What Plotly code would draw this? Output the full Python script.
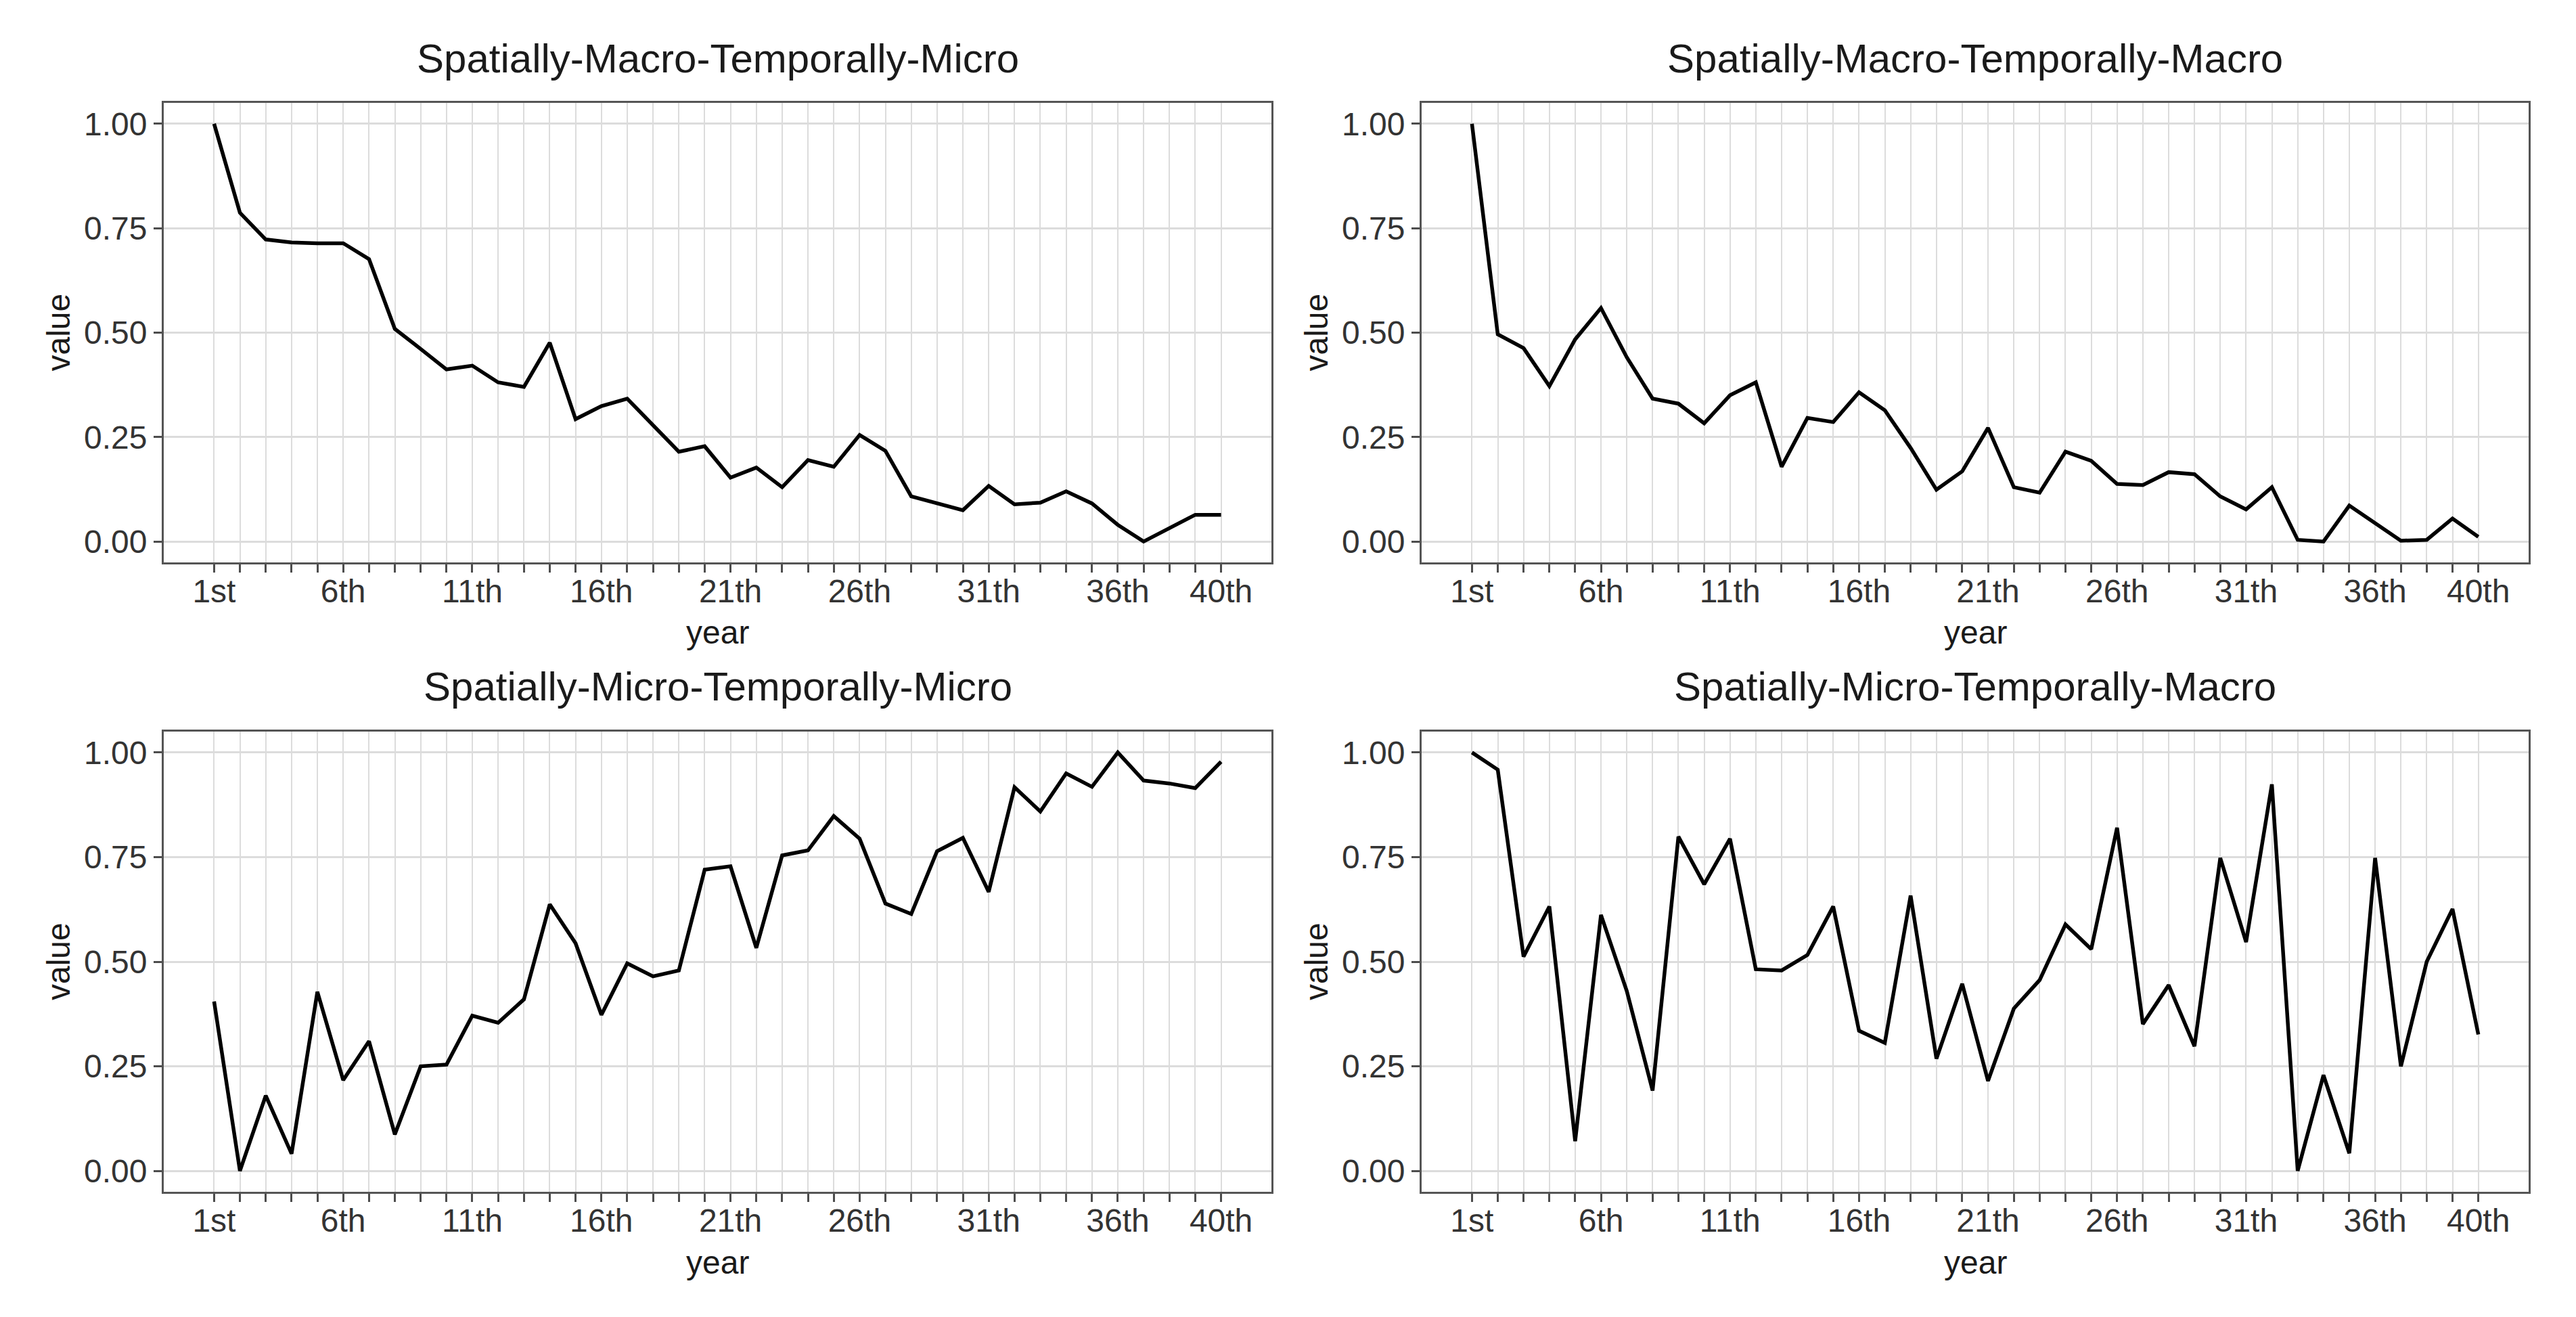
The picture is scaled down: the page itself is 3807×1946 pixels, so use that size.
import plotly.graph_objects as go

# ---- data ----
years = list(range(1, 41))
year_labels = ["1st"] + [f"{n}th" for n in range(2, 41)]
shown_labels = ["1st", "6th", "11th", "16th", "21th", "26th", "31th", "36th", "40th"]
y_ticks = [0.0, 0.25, 0.5, 0.75, 1.0]
y_ticktext = ["0.00", "0.25", "0.50", "0.75", "1.00"]

titles = [
    "Spatially-Macro-Temporally-Micro",
    "Spatially-Macro-Temporally-Macro",
    "Spatially-Micro-Temporally-Micro",
    "Spatially-Micro-Temporally-Macro",
]

smac_tmic = [1.000, 0.787, 0.723, 0.716, 0.714, 0.714, 0.676, 0.509, 0.461, 0.412,
             0.421, 0.381, 0.370, 0.476, 0.293, 0.324, 0.342, 0.277, 0.215, 0.228,
             0.153, 0.177, 0.130, 0.195, 0.179, 0.255, 0.217, 0.108, 0.091, 0.075,
             0.133, 0.089, 0.093, 0.120, 0.091, 0.040, 0.000, 0.033, 0.064, 0.064]

smac_tmac = [1.000, 0.496, 0.463, 0.372, 0.484, 0.559, 0.441, 0.342, 0.330, 0.283,
             0.350, 0.381, 0.179, 0.296, 0.286, 0.357, 0.314, 0.224, 0.124, 0.168,
             0.272, 0.130, 0.117, 0.215, 0.193, 0.138, 0.135, 0.166, 0.161, 0.108,
             0.077, 0.130, 0.004, 0.000, 0.086, 0.043, 0.002, 0.004, 0.055, 0.011]

smic_tmic = [0.405, 0.000, 0.180, 0.041, 0.428, 0.217, 0.310, 0.087, 0.250, 0.254,
             0.371, 0.354, 0.410, 0.637, 0.544, 0.373, 0.496, 0.465, 0.479, 0.720,
             0.728, 0.533, 0.754, 0.766, 0.848, 0.794, 0.639, 0.614, 0.764, 0.796,
             0.667, 0.917, 0.859, 0.950, 0.918, 1.000, 0.933, 0.926, 0.915, 0.978]

smic_tmac = [1.000, 0.959, 0.512, 0.632, 0.071, 0.612, 0.430, 0.192, 0.799, 0.685,
             0.794, 0.482, 0.479, 0.516, 0.632, 0.335, 0.306, 0.658, 0.268, 0.447,
             0.215, 0.388, 0.456, 0.589, 0.530, 0.820, 0.351, 0.444, 0.298, 0.748,
             0.547, 0.924, 0.000, 0.229, 0.042, 0.748, 0.250, 0.500, 0.626, 0.326]

series = [smac_tmic, smac_tmac, smic_tmic, smic_tmac]

# ---- layout geometry ----
W, H = 3807, 1946
xdoms = [[234 / W, 1871 / W], [2093 / W, 3729 / W]]
ydoms = [[1 - 823 / H, 1 - 144 / H], [1 - 1753 / H, 1 - 1073 / H]]
FONT = "Liberation Sans, Arial, sans-serif"
TXT = "#1a1a1a"
TICKC = "#4d4d4d"

fig = go.Figure()
layout = dict(
    width=W, height=H, autosize=False,
    margin=dict(l=0, r=0, t=0, b=0),
    paper_bgcolor="white", plot_bgcolor="white",
    showlegend=False,
    font=dict(family=FONT, size=48, color=TXT),
)

tickvals_x = years
ticktext_x = [lab if lab in shown_labels else "" for lab in year_labels]

annotations = []
for i in range(4):
    row, col = divmod(i, 2)
    ax = "" if i == 0 else str(i + 1)
    fig.add_trace(go.Scatter(
        x=years, y=series[i], mode="lines",
        line=dict(color="black", width=5.5),
        xaxis="x" + ax, yaxis="y" + ax,
        hoverinfo="skip",
    ))
    layout["xaxis" + ax] = dict(
        domain=xdoms[col], anchor="y" + ax,
        range=[1 - 1.95, 40 + 1.95],
        tickmode="array", tickvals=tickvals_x, ticktext=ticktext_x,
        ticks="outside", ticklen=12, tickwidth=3, tickcolor=TICKC,
        ticklabelstandoff=-14,
        tickfont=dict(size=48, color="#333333", family=FONT),
        showgrid=True, gridcolor="#dcdcdc", gridwidth=2,
        zeroline=False,
        showline=True, linecolor="#555555", linewidth=3, mirror=True,
    )
    layout["yaxis" + ax] = dict(
        domain=ydoms[row], anchor="x" + ax,
        range=[-0.05, 1.05],
        tickmode="array", tickvals=y_ticks, ticktext=y_ticktext,
        ticks="outside", ticklen=12, tickwidth=3, tickcolor=TICKC,
        tickfont=dict(size=48, color="#333333", family=FONT),
        showgrid=True, gridcolor="#dcdcdc", gridwidth=3,
        zeroline=False,
        showline=True, linecolor="#555555", linewidth=3, mirror=True,
    )
    xc = (xdoms[col][0] + xdoms[col][1]) / 2
    top = ydoms[row][1]
    bottom = ydoms[row][0]
    # panel title
    annotations.append(dict(
        text=titles[i], xref="paper", yref="paper",
        x=xc, y=top + 66 / H, xanchor="center", yanchor="middle",
        showarrow=False, font=dict(size=60, color=TXT, family=FONT),
    ))
    # x axis title
    annotations.append(dict(
        text="year", xref="paper", yref="paper",
        x=xc, y=bottom - 104 / H, xanchor="center", yanchor="middle",
        showarrow=False, font=dict(size=48, color=TXT, family=FONT),
    ))
    # y axis title
    annotations.append(dict(
        text="value", xref="paper", yref="paper",
        x=(xdoms[col][0] * W - 156) / W, y=(top + bottom) / 2,
        xanchor="center", yanchor="middle", textangle=-90,
        showarrow=False, font=dict(size=48, color=TXT, family=FONT),
    ))

layout["annotations"] = annotations
fig.update_layout(**layout)
fig.write_html("out.html")
